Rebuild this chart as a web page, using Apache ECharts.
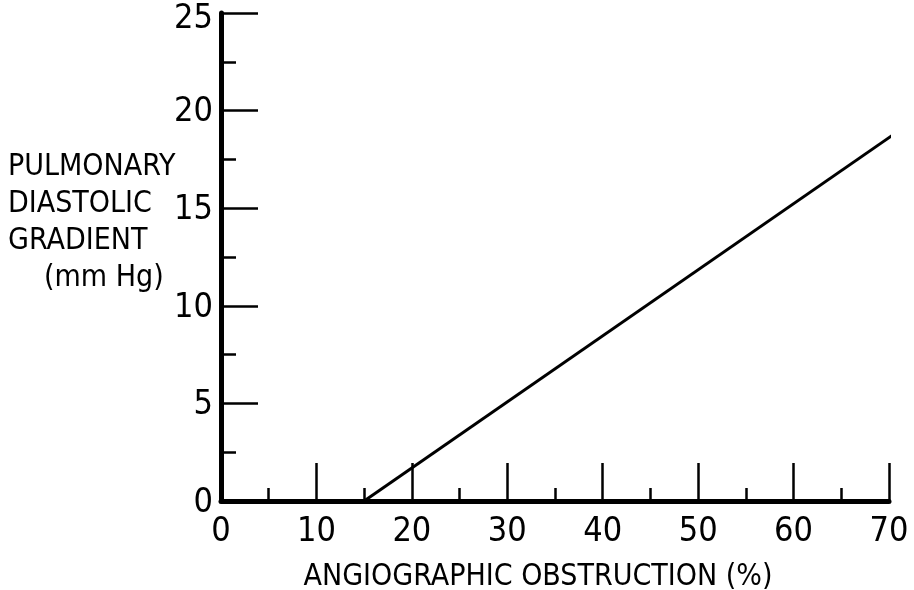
<!DOCTYPE html>
<html><head><meta charset="utf-8">
<script src="https://cdn.jsdelivr.net/npm/echarts@6/dist/echarts.min.js"></script>
<style>html,body{margin:0;padding:0;background:#fff}#c{width:914px;height:590px}</style>
</head><body><div id="c"></div>
<script>
const xTicks = [0, 10, 20, 30, 40, 50, 60, 70];
const yTicks = [0, 5, 10, 15, 20, 25];
const lineX = [15, 70.4];
const lineY = [0, 18.75];
const xName = 'ANGIOGRAPHIC OBSTRUCTION (%)';
const yNameLines = ['PULMONARY', 'DIASTOLIC', 'GRADIENT', '(mm Hg)'];

const FONT = '"Liberation Sans Narrow", "DejaVu Sans Condensed", sans-serif';
const yMax = yTicks[yTicks.length - 1];
const chart = echarts.init(document.getElementById('c'), null, {renderer: 'canvas'});
chart.setOption({
  animation: false,
  backgroundColor: '#fff',
  grid: {left: 221, right: 25, top: 13, bottom: 89, containLabel: false, outerBoundsMode: 'none'},
  xAxis: {
    type: 'value', min: xTicks[0], max: xTicks[xTicks.length - 1], interval: 10,
    axisLine: {lineStyle: {color: '#000', width: 5}},
    axisTick: {inside: true, length: 38, lineStyle: {color: '#000', width: 2.5}},
    minorTick: {show: true, splitNumber: 2, length: 13, lineStyle: {color: '#000', width: 2.5}},
    splitLine: {show: false},
    axisLabel: {color: '#000', fontFamily: FONT, fontSize: 34, margin: 14},
    name: xName, nameLocation: 'middle', nameGap: 61,
    nameTextStyle: {color: '#000', fontFamily: FONT, fontSize: 30, padding: [0, 34, 0, 0]}
  },
  yAxis: {
    type: 'value', min: yTicks[0], max: yMax, interval: 5,
    axisLine: {show: true, lineStyle: {color: '#000', width: 5}},
    axisTick: {show: true, inside: true, length: 37, lineStyle: {color: '#000', width: 2.5}},
    minorTick: {show: true, splitNumber: 2, length: 15, lineStyle: {color: '#000', width: 2.5}},
    splitLine: {show: false},
    axisLabel: {
      color: '#000', fontFamily: FONT, fontSize: 34, margin: 8,
      formatter: v => v === yMax ? '{t|' + v + '}' : '{n|' + v + '}',
      rich: {
        t: {fontFamily: FONT, fontSize: 34, color: '#000', padding: [12, 0, 0, 0]},
        n: {fontFamily: FONT, fontSize: 34, color: '#000', padding: [4, 0, 0, 0]}
      }
    }
  },
  graphic: yNameLines.map((t, i) => ({
    type: 'text', left: i === yNameLines.length - 1 ? 44 : 8, top: 152 + i * 37,
    style: {text: t, fill: '#000', font: '30px ' + FONT}
  })),
  series: [{
    type: 'line', clip: false, symbol: 'none',
    data: lineX.map((x, i) => [x, lineY[i]]),
    lineStyle: {color: '#000', width: 3}
  }]
});
</script></body></html>
